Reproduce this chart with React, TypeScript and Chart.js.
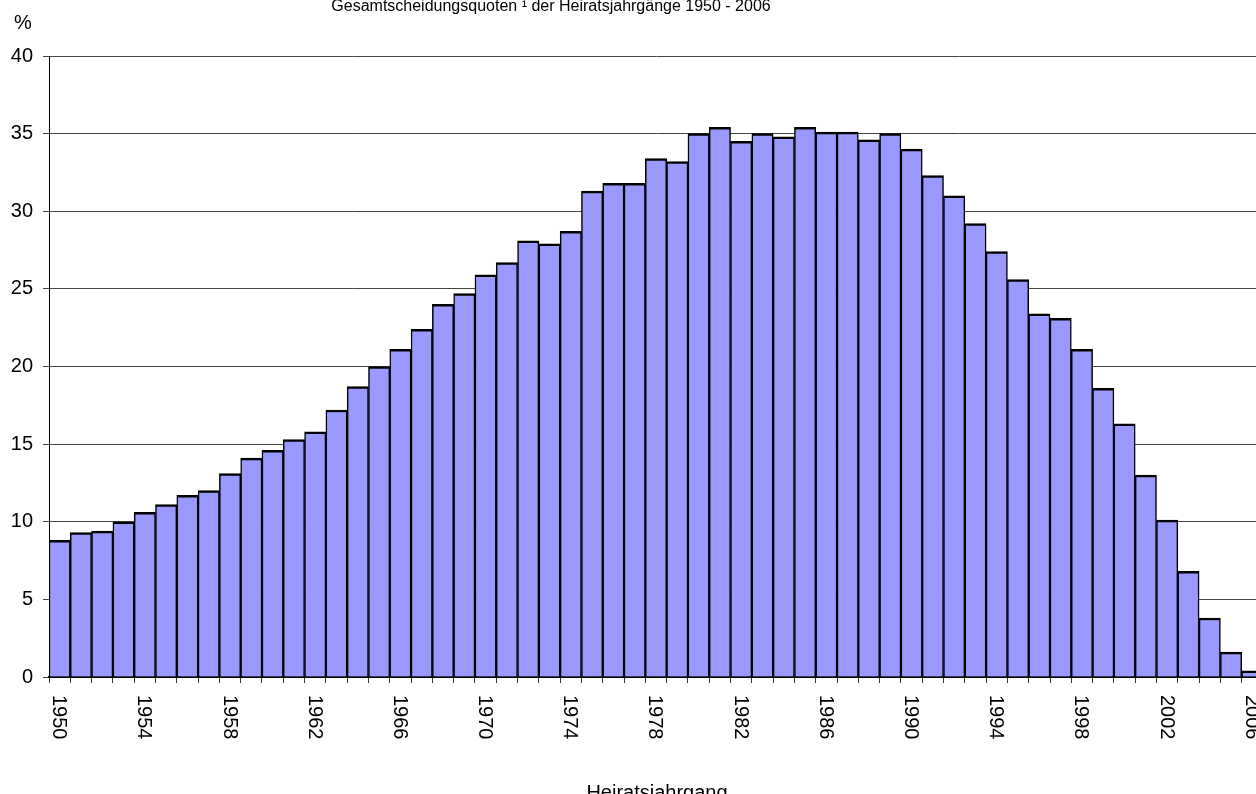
import React, { useEffect, useRef } from "react";
import { Chart, registerables } from "chart.js";

Chart.register(...registerables);

const chartTitle = "Gesamtscheidungsquoten ¹ der Heiratsjahrgänge 1950 - 2006";
const yAxisUnit = "%";
const xAxisTitle = "Heiratsjahrgang";

const years = [
  "1950", "1951", "1952", "1953", "1954", "1955", "1956", "1957", "1958", "1959",
  "1960", "1961", "1962", "1963", "1964", "1965", "1966", "1967", "1968", "1969",
  "1970", "1971", "1972", "1973", "1974", "1975", "1976", "1977", "1978", "1979",
  "1980", "1981", "1982", "1983", "1984", "1985", "1986", "1987", "1988", "1989",
  "1990", "1991", "1992", "1993", "1994", "1995", "1996", "1997", "1998", "1999",
  "2000", "2001", "2002", "2003", "2004", "2005", "2006",
];

const quotes = [
  8.8, 9.3, 9.4, 10.0, 10.6, 11.1, 11.7, 12.0, 13.1, 14.1,
  14.6, 15.3, 15.8, 17.2, 18.7, 20.0, 21.1, 22.4, 24.0, 24.7,
  25.9, 26.7, 28.1, 27.9, 28.7, 31.3, 31.8, 31.8, 33.4, 33.2,
  35.0, 35.4, 34.5, 35.0, 34.8, 35.4, 35.1, 35.1, 34.6, 35.0,
  34.0, 32.3, 31.0, 29.2, 27.4, 25.6, 23.4, 23.1, 21.1, 18.6,
  16.3, 13.0, 10.1, 6.8, 3.8, 1.6, 0.4,
];

const xTickLabels = [
  "1950", "1954", "1958", "1962", "1966", "1970", "1974", "1978",
  "1982", "1986", "1990", "1994", "1998", "2002", "2006",
];

const FONT = '"Liberation Sans", Arial, sans-serif';

const textPlugin = {
  id: "textPlugin",
  afterDraw(chart: any) {
    const ctx = chart.ctx;
    const xScale = chart.scales.x;
    ctx.save();
    ctx.fillStyle = "#000";
    // x tick labels, rotated to read top-to-bottom
    ctx.font = `20px ${FONT}`;
    ctx.textAlign = "left";
    ctx.textBaseline = "middle";
    years.forEach((y, i) => {
      if (xTickLabels.indexOf(y) === -1) return;
      const x = xScale.getPixelForValue(i);
      ctx.save();
      ctx.translate(x - 1, 695);
      ctx.rotate(Math.PI / 2);
      ctx.fillText(y, 0, 0);
      ctx.restore();
    });
    // title
    ctx.font = `16px ${FONT}`;
    ctx.textAlign = "center";
    ctx.textBaseline = "alphabetic";
    ctx.fillText(chartTitle, 551, 11);
    // unit
    ctx.font = `20px ${FONT}`;
    ctx.textAlign = "center";
    ctx.textBaseline = "middle";
    ctx.fillText(yAxisUnit, 23, 23);
    // x axis title
    ctx.textBaseline = "alphabetic";
    ctx.fillText(xAxisTitle, 657, 799);
    ctx.restore();
  },
};

export default function App() {
  const ref = useRef<HTMLCanvasElement | null>(null);

  useEffect(() => {
    if (!ref.current) return;
    const chart = new Chart(ref.current, {
      type: "bar",
      data: {
        labels: years,
        datasets: [
          {
            data: quotes,
            backgroundColor: "#9999FF",
            borderColor: "#000000",
            borderWidth: { top: 2.5, left: 1.5, right: 1.5, bottom: 0 },
            barPercentage: 1,
            categoryPercentage: 1,
          },
        ],
      },
      options: {
        responsive: false,
        animation: false,
        layout: { padding: { top: 56, left: 0, right: 0, bottom: 0 } },
        plugins: {
          legend: { display: false },
          title: { display: false },
          tooltip: { enabled: false },
        },
        scales: {
          x: {
            offset: true,
            grid: {
              offset: true,
              drawOnChartArea: false,
              drawTicks: true,
              tickLength: 6,
              color: "#333",
            },
            border: { display: true, color: "#000", width: 2 },
            ticks: { display: false },
            afterFit: (scale: any) => {
              scale.height = 117;
            },
          },
          y: {
            min: 0,
            max: 40,
            ticks: {
              stepSize: 5,
              color: "#000",
              padding: 10,
              font: { family: FONT, size: 20 },
            },
            grid: {
              color: "#444",
              lineWidth: 1,
              drawTicks: true,
              tickLength: 6,
            },
            border: { display: true, color: "#000", width: 1 },
            afterFit: (scale: any) => {
              scale.width = 49;
            },
          },
        },
      },
      plugins: [textPlugin],
    });
    return () => chart.destroy();
  }, []);

  return (
    <div
      style={{
        position: "fixed",
        left: 0,
        top: 0,
        width: 1256,
        height: 794,
        overflow: "hidden",
        background: "#fff",
      }}
    >
      <canvas ref={ref} width={1263} height={794} style={{ display: "block" }} />
    </div>
  );
}
